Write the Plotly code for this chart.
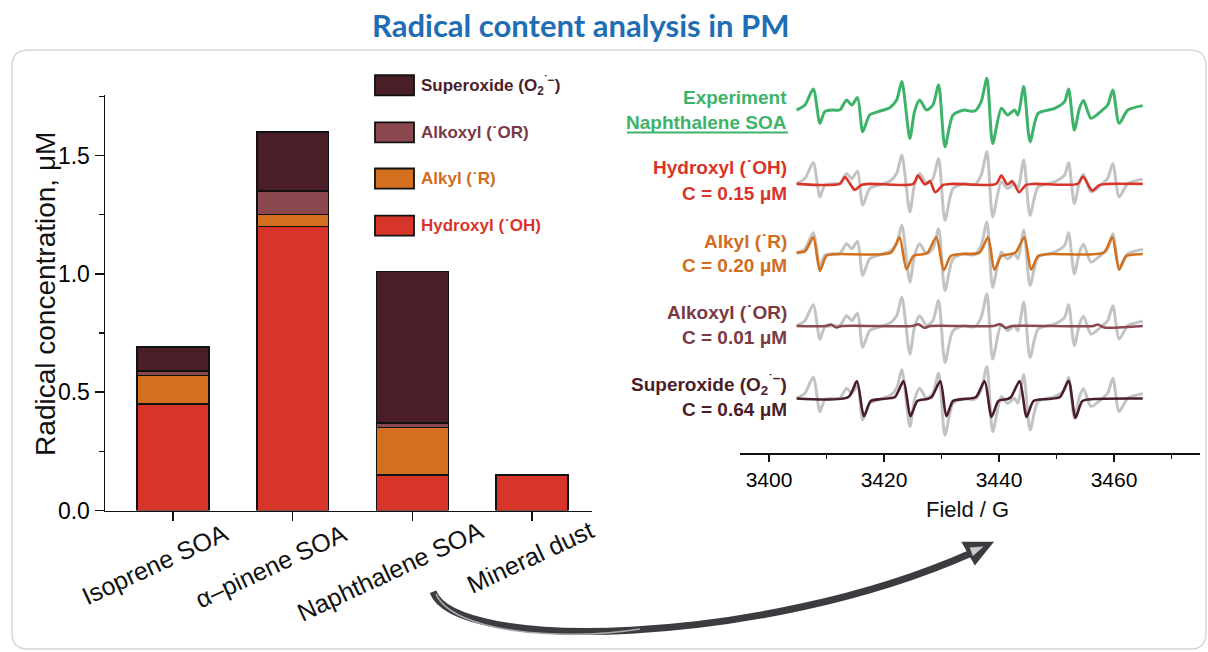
import plotly.graph_objects as go

W, H = 1208, 652          # design size (reference pixels)
H_PAGE = 667              # rendered height; the photo is rescaled to 652

# ---------------- data: left stacked bar chart ----------------
categories = ["Isoprene SOA", "α–pinene SOA", "Naphthalene SOA", "Mineral dust"]
hydroxyl = [0.45, 1.20, 0.15, 0.15]
alkyl = [0.12, 0.05, 0.20, None]
alkoxyl = [0.02, 0.10, 0.02, None]
superoxide = [0.10, 0.25, 0.64, None]
y_ticks = [0.0, 0.5, 1.0, 1.5]

# ---------------- data: right EPR spectra (Field / G, intensity a.u.) ----------------
exp_field = [3404.8, 3406.25, 3407.7, 3408.85, 3409.7, 3411.2, 3412.3, 3413.5, 3414.4, 3415.4,
             3416.3, 3417.5, 3419.0, 3421.0, 3422.2, 3423.1, 3424.5, 3425.3, 3426.2, 3427.4,
             3428.5, 3429.5, 3430.6, 3432.0, 3434.0, 3434.9, 3435.8, 3436.9, 3437.9, 3438.9,
             3440.4, 3441.5, 3442.7, 3443.3, 3444.3, 3445.4, 3446.8, 3449.7, 3451.4, 3452.1,
             3453.1, 3454.0, 3454.7, 3456.0, 3457.8, 3458.9, 3459.8, 3460.9, 3462.4, 3465.0]
exp_int = [0.3, 5.3, 21.3, -13.0, -1.3, 0.3, 0.3, 10.3, 5.3, 12.7,
           -21.3, -4.7, -1.3, 2.7, 10.3, 28.7, -28.0, -1.3, 10.3, 0.3,
           5.3, 25.3, -36.3, -4.7, 0.3, -0.7, -0.7, 8.7, 32.0, -33.0,
           2.0, -4.7, 0.3, -4.7, 23.7, -31.3, -3.0, 2.0, 8.7, 21.3,
           -19.7, 2.0, 9.7, -8.0, -0.7, 5.3, 20.3, -13.0, 0.3, 4.7]

oh_field = [3404.8, 3412.3, 3413.2, 3414.1, 3414.9, 3416.1, 3417.5, 3425.1, 3425.9, 3427.1,
            3428.0, 3428.9, 3430.3, 3431.8, 3439.5, 3440.4, 3441.5, 3442.3, 3443.5, 3444.7,
            3446.2, 3453.7, 3454.6, 3456.2, 3457.5, 3459.0, 3465.0]
oh_int = [0, 0, 6.7, 0, -6.0, -1.0, 0, 0, 8.3, -0.7,
          2.7, -8.3, -1.0, 0, 0, 8.3, -0.7, 2.7, -8.3, -1.0,
          0, 0, 7.3, -6.7, -1.0, 0, 0]

r_field = [3404.8, 3406.3, 3407.7, 3408.85, 3410.0, 3412.0, 3421.2, 3422.7, 3423.9, 3425.1,
           3427.0, 3427.6, 3429.1, 3430.4, 3431.6, 3433.5, 3436.6, 3438.1, 3439.2, 3440.4,
           3442.0, 3442.9, 3444.4, 3445.6, 3446.8, 3449.0, 3458.2, 3459.7, 3460.9, 3462.1,
           3463.5, 3465.0]
r_int = [1.5, 3.0, 16.7, -16.7, -1.7, 0, 1.5, 16.7, -15.0, -2.0,
         0, 1.5, 16.7, -16.0, -2.0, 0, 1.5, 16.7, -15.5, -2.0,
         0, 1.5, 16.7, -15.5, -2.0, 0, 1.5, 16.7, -15.5, -2.0,
         -0.5, 0]

or_field = [3404.8, 3409.8, 3410.8, 3411.7, 3412.7, 3424.9, 3426.0, 3427.0, 3428.1, 3439.0,
            3440.1, 3441.2, 3442.3, 3456.4, 3457.2, 3458.3, 3465.0]
or_int = [0, 0, 1.5, -1.5, 0, 0, 1.8, -1.8, 0, 0,
          1.8, -1.8, 0, 0, 1.5, -1.5, 0]

o2_field = [3404.8, 3413.8, 3415.3, 3416.5, 3417.7, 3419.5, 3421.9, 3423.4, 3424.6, 3425.8,
            3427.5, 3428.3, 3429.8, 3430.85, 3432.0, 3434.0, 3436.0, 3437.5, 3438.7, 3439.9,
            3441.5, 3442.1, 3443.6, 3444.8, 3446.0, 3448.5, 3450.6, 3452.1, 3453.3, 3454.5,
            3456.5, 3465.0]
o2_int = [0, 1.5, 17.3, -17.7, -2.5, -0.5, 1.5, 17.3, -17.7, -2.5,
          -0.5, 1.5, 17.3, -17.7, -2.5, -0.5, 1.5, 17.3, -18.3, -2.5,
          -0.5, 1.5, 17.3, -18.3, -2.5, -0.5, 1.5, 17.7, -19.3, -2.5,
          -0.5, 0]

field_ticks = [3400, 3420, 3440, 3460]

# ---------------- styles / layout constants ----------------
FONT = "Liberation Sans, Arial, sans-serif"
C_OH = "#d8352a"
C_R = "#d2701f"
C_OR = "#8c484f"
C_O2 = "#4a1e27"
C_EXP = "#3db36a"
C_GRAY = "#c3c3c3"
T_OH = "#d8352a"
T_R = "#d06d1f"
T_OR = "#7b3a43"
T_O2 = "#4a1e27"

# row baselines (pixel rows in the page), used as vertical offsets
ROW_EXP = 110.0
ROW_OH = 183.3
ROW_R = 253.3
ROW_OR = 325.0
ROW_O2 = 397.3


def px(x):
    return x / W


def py(y):
    return 1 - y / H


fig = go.Figure()

# stacked bars
for vals, col in [(hydroxyl, C_OH), (alkyl, C_R), (alkoxyl, C_OR), (superoxide, C_O2)]:
    fig.add_trace(go.Bar(x=categories, y=vals, marker=dict(color=col, line=dict(color="#111111", width=1.5)),
                         width=0.6, xaxis="x", yaxis="y", showlegend=False, hoverinfo="skip"))

# spectra
def spec(field, inten, base, color, width):
    fig.add_trace(go.Scatter(x=field, y=[v - base for v in inten], mode="lines",
                             line=dict(color=color, width=width, shape="spline", smoothing=0.7),
                             xaxis="x2", yaxis="y2", showlegend=False, hoverinfo="skip"))


spec(exp_field, exp_int, ROW_EXP, C_EXP, 3)
for base, f, v, c in [(ROW_OH, oh_field, oh_int, C_OH), (ROW_R, r_field, r_int, C_R),
                      (ROW_OR, or_field, or_int, C_OR), (ROW_O2, o2_field, o2_int, C_O2)]:
    spec(exp_field, exp_int, base, C_GRAY, 3)
    spec(f, v, base, c, 2.6)

fig.update_layout(
    width=W, height=H_PAGE, margin=dict(l=0, r=0, t=0, b=0),
    paper_bgcolor="white", plot_bgcolor="white", barmode="stack", bargap=0.4,
    showlegend=False,
    font=dict(family=FONT, color="black"),
    xaxis=dict(domain=[px(105), px(592)], range=[-0.568, 3.501], type="category",
               showline=True, linecolor="#111111", linewidth=1.5, ticks="outside", ticklen=9,
               tickwidth=1.5, tickcolor="#111111", showticklabels=False, showgrid=False,
               zeroline=False, anchor="y", fixedrange=True),
    yaxis=dict(domain=[py(509), py(95)], range=[0, 414 / 236], showline=True, linecolor="#111111",
               linewidth=1.5, ticks="outside", ticklen=9, tickwidth=1.5, tickcolor="#111111",
               tickvals=y_ticks, ticktext=[f"{t:.1f}" for t in y_ticks],
               tickfont=dict(size=23, family=FONT), showgrid=False, zeroline=False,
               minor=dict(dtick=0.25, ticks="outside", ticklen=5, tickwidth=1.5, tickcolor="#111111",
                          showgrid=False),
               anchor="x", fixedrange=True),
    xaxis2=dict(domain=[px(740), px(1200)], range=[3400 - 29 / 5.75, 3400 + 431 / 5.75],
                showline=True, linecolor="#111111", linewidth=1.5, ticks="outside", ticklen=7,
                tickwidth=1.5, tickcolor="#111111", tickvals=field_ticks,
                tickfont=dict(size=21, family=FONT), showgrid=False, zeroline=False,
                minor=dict(dtick=10, ticks="outside", ticklen=4, tickwidth=1.5, tickcolor="#111111",
                           showgrid=False),
                anchor="y2", fixedrange=True),
    yaxis2=dict(domain=[py(452), py(60)], range=[-452, -60], visible=False, anchor="x2",
                fixedrange=True),
)

ann = []
shapes = []

# title
ann.append(dict(x=px(581), y=py(25), xref="paper", yref="paper", text="<b>Radical content analysis in PM</b>",
                showarrow=False, font=dict(family="Lato, Open Sans, sans-serif", size=31, color="#1f6db3"),
                xanchor="center", yanchor="middle"))

# y axis title
ann.append(dict(x=px(46), y=py(293), xref="paper", yref="paper", text="Radical concentration, μM",
                textangle=-90, showarrow=False, font=dict(family=FONT, size=28, color="#111111"),
                xanchor="center", yanchor="middle"))

# x category labels (rotated)
label_dx = [-18, -22, -22, -2]
label_y = [562, 564, 569, 555]
for i, cat in enumerate(categories):
    ann.append(dict(x=cat, y=py(label_y[i]), xref="x", yref="paper", text=cat, textangle=-25,
                    xshift=label_dx[i], showarrow=False, font=dict(family=FONT, size=25, color="#111111"),
                    xanchor="center", yanchor="middle"))

# Field axis title
ann.append(dict(x=px(967), y=py(508), xref="paper", yref="paper", text="Field / G", showarrow=False,
                font=dict(family=FONT, size=22, color="#111111"), xanchor="center", yanchor="middle"))

# legend (manual)
legend_items = [("Superoxide (O<sub>2</sub><sup>˙−</sup>)", C_O2, T_O2, 85),
                ("Alkoxyl (˙OR)", C_OR, T_OR, 132),
                ("Alkyl (˙R)", C_R, T_R, 178),
                ("Hydroxyl (˙OH)", C_OH, T_OH, 225)]
for text, fc, tc, yc in legend_items:
    shapes.append(dict(type="rect", xref="paper", yref="paper", x0=px(375), x1=px(414),
                       y0=py(yc + 10), y1=py(yc - 10), fillcolor=fc, line=dict(color="#111111", width=1.8)))
    ann.append(dict(x=px(419), y=py(yc), xref="paper", yref="paper", text=f"<b>{text}</b>", showarrow=False,
                    font=dict(family=FONT, size=17, color=tc), xanchor="left", yanchor="middle"))

# right labels
right_labels = [("Experiment", 97, C_EXP), ("Naphthalene SOA", 122, C_EXP),
                ("Hydroxyl (˙OH)", 167, T_OH), ("C = 0.15 μM", 193, T_OH),
                ("Alkyl (˙R)", 241, T_R), ("C = 0.20 μM", 265, T_R),
                ("Alkoxyl (˙OR)", 312, T_OR), ("C = 0.01 μM", 336, T_OR),
                ("Superoxide (O<sub>2</sub><sup>˙−</sup>)", 383, T_O2), ("C = 0.64 μM", 408, T_O2)]
for text, yc, col in right_labels:
    ann.append(dict(x=px(789), y=py(yc), xref="paper", yref="paper", text=f"<b>{text}</b>", showarrow=False,
                    font=dict(family=FONT, size=19, color=col), xanchor="right", yanchor="middle"))
shapes.append(dict(type="line", xref="paper", yref="paper", x0=px(627), x1=px(788), y0=py(132), y1=py(132),
                   line=dict(color=C_EXP, width=2)))


def P(x, y):
    return f"{px(x):.5f},{py(y):.5f}"


# rounded border
x0, y0, x1, y1, r = 12, 50, 1206, 647, 16
border = (f"M {P(x0 + r, y0)} L {P(x1 - r, y0)} Q {P(x1, y0)} {P(x1, y0 + r)} L {P(x1, y1 - r)} "
          f"Q {P(x1, y1)} {P(x1 - r, y1)} L {P(x0 + r, y1)} Q {P(x0, y1)} {P(x0, y1 - r)} "
          f"L {P(x0, y0 + r)} Q {P(x0, y0)} {P(x0 + r, y0)} Z")
shapes.append(dict(type="path", xref="paper", yref="paper", path=border, line=dict(color="#cfd4d8", width=1.3),
                   layer="below"))

# curved arrow
arrow_body = f"M {P(433, 590)} C {P(455, 650)} {P(760, 645)} {P(972, 551)}"
shapes.append(dict(type="path", xref="paper", yref="paper", path=arrow_body, line=dict(color="#3a3c3f", width=7)))
arrow_hi = f"M {P(436, 592)} C {P(452, 630)} {P(560, 640)} {P(640, 627)}"
shapes.append(dict(type="path", xref="paper", yref="paper", path=arrow_hi, line=dict(color="#a7aaad", width=1.6)))
head = f"M {P(992, 541)} L {P(975, 562)} L {P(963, 541)} Z"
shapes.append(dict(type="path", xref="paper", yref="paper", path=head, fillcolor="#3a3c3f",
                   line=dict(color="#3a3c3f", width=2)))
head_hi = f"M {P(983, 545)} L {P(973, 554)} L {P(970, 546)} Z"
shapes.append(dict(type="path", xref="paper", yref="paper", path=head_hi, fillcolor="#c9cbcd",
                   line=dict(color="#c9cbcd", width=0.5)))

fig.update_layout(annotations=ann, shapes=shapes)
fig.write_html(
    "out.html",
    config={"displayModeBar": False, "staticPlot": True},
    post_script=("document.documentElement.style.margin='0';document.body.style.margin='0';"
                 "document.body.style.padding='0';document.body.style.overflow='hidden';"
                 "var d=document.getElementById('{plot_id}');d.style.position='fixed';"
                 "d.style.left='0px';d.style.top='0px';"),
)
